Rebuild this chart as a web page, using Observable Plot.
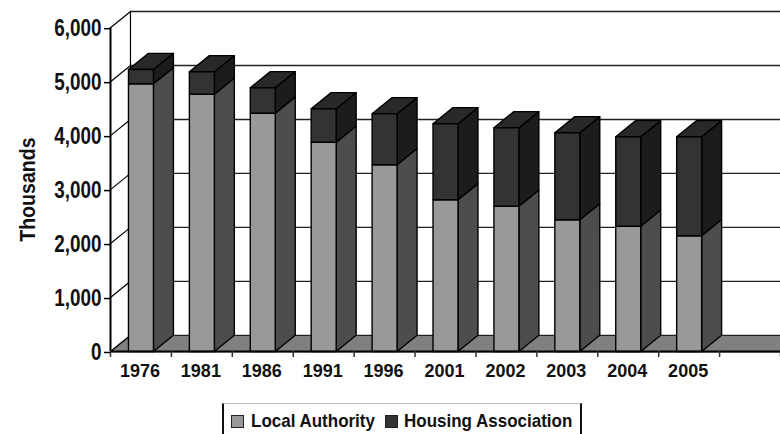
<!DOCTYPE html>
<html>
<head>
<meta charset="utf-8">
<script src="https://cdn.jsdelivr.net/npm/d3@7"></script>
<script src="https://cdn.jsdelivr.net/npm/@observablehq/plot@0.6"></script>
<style>
html,body{margin:0;padding:0;background:#fff;overflow:hidden;font-family:"Liberation Sans",Arial,sans-serif}
#legend{position:absolute;left:222px;top:403px;width:356px;height:31px;border-left:2px solid #111;border-right:2px solid #111;border-top:1.5px solid #bbb;font-weight:bold;font-size:19px;color:#111}
#legend i{position:absolute;top:11px;width:11px;height:11px;border:1px solid #222}
#legend span{position:absolute;top:6px;white-space:nowrap;transform:scaleX(0.894);transform-origin:left center}
</style>
</head>
<body>
<div id="chart"></div>
<div id="legend"></div>
<script>
const years = ["1976","1981","1986","1991","1996","2001","2002","2003","2004","2005"];
const localAuthority = [4960,4767,4415,3878,3460,2811,2692,2440,2322,2145];
const housingAssociation = [265,416,471,619,944,1408,1453,1612,1656,1833];
const seriesNames = ["Local Authority","Housing Association"];
const gridValues = [0,1000,2000,3000,4000,5000,6000];
const slotCount = 11;

const depthX = 0.328, depthY = 300;          // oblique projection of the depth, in data units
const barLeft = 0.295, barRight = 0.705;
const colors = {
  laFront:"#999999", laSide:"#4d4d4d",
  haFront:"#333333", haSide:"#1c1c1c", top:"#292929", floor:"#808080"
};

// polygons are listed back to front
const polys = [];
let pid = 0;
function poly(pts, fill){
  pid++;
  pts.forEach(([x,y]) => polys.push({x,y,id:pid,fill}));
}
years.forEach((yr,i) => {
  const l = i+barLeft, r = i+barRight;
  const a = localAuthority[i], t = a+housingAssociation[i];
  poly([[r,0],[r+depthX,depthY],[r+depthX,a+depthY],[r,a]], colors.laSide);
  poly([[r,a],[r+depthX,a+depthY],[r+depthX,t+depthY],[r,t]], colors.haSide);
  poly([[l,t],[l+depthX,t+depthY],[r+depthX,t+depthY],[r,t]], colors.top);
  poly([[l,0],[r,0],[r,a],[l,a]], colors.laFront);
  poly([[l,a],[r,a],[r,t],[l,t]], colors.haFront);
});

const backGrid = gridValues.filter(v => v>0);
const sideGrid = gridValues.flatMap(v => [{x:0,y:v,v},{x:depthX,y:v+depthY,v}]);

const chart = Plot.plot({
  width:780, height:400,
  marginLeft:110, marginRight:0, marginTop:11, marginBottom:49,
  x:{domain:[0,slotCount], axis:null},
  y:{domain:[0,6300], axis:null},
  style:{fontFamily:'"Liberation Sans",Arial,sans-serif', background:"#fff", color:"#000", overflow:"visible"},
  marks:[
    // floor
    Plot.line([[0,0],[depthX,depthY],[slotCount,depthY],[slotCount,0]],{x:d=>d[0],y:d=>d[1],fill:colors.floor,stroke:"#000",strokeWidth:1,curve:"linear-closed"}),
    // back wall grid
    Plot.ruleY(backGrid,{y:d=>d+depthY,x1:depthX,x2:slotCount,stroke:"#222",strokeWidth:1.4}),
    Plot.line(sideGrid,{x:"x",y:"y",z:"v",stroke:"#000",strokeWidth:1.2}),
    Plot.ruleX([depthX],{y1:depthY,y2:6000+depthY,stroke:"#000",strokeWidth:1.2}),
    // bars
    Plot.line(polys,{x:"x",y:"y",z:"id",fill:"fill",stroke:"#000",strokeWidth:1.4,curve:"linear-closed"}),
    // axes
    Plot.ruleX([0],{y1:0,y2:6000,stroke:"#000",strokeWidth:2}),
    Plot.ruleY([0],{x1:0,x2:slotCount,stroke:"#000",strokeWidth:2}),
    Plot.axisY({ticks:gridValues,tickFormat:d3.format(","),tickSize:6,tickPadding:3,fontSize:23,fontWeight:"bold",fill:"#111",stroke:"#000",strokeWidth:1.5,label:null,dy:1}),
    Plot.axisX({ticks:d3.range(slotCount+1),tickFormat:()=>"",tickSize:6,stroke:"#333",strokeWidth:1.5,label:null}),
    Plot.text(years,{x:(d,i)=>i+0.5,y:0,text:d=>d,dy:20,dx:-1,fontSize:18,fontWeight:"bold",fill:"#111"}),
    Plot.text(["Thousands"],{x:0,y:[3000],text:d=>d,dx:-82.5,rotate:-90,fontSize:22,fontWeight:"bold",fill:"#111"})
  ]
});
document.getElementById("chart").appendChild(chart);

// the reference type is condensed: narrow the real text without changing its height
chart.querySelectorAll("text").forEach(t => {
  const s = t.textContent;
  const ratio = s === "Thousands" ? 0.89 : (/^\d(,\d+)?$/.test(s) ? 0.82 : 1);
  if (ratio < 1) {
    t.setAttribute("textLength", t.getComputedTextLength()*ratio);
    t.setAttribute("lengthAdjust","spacingAndGlyphs");
  }
});

const legend = document.getElementById("legend");
const swatches = [colors.laFront, colors.haFront];
const swatchLeft = ["7px","161px"], textLeft = ["27px","180px"];
seriesNames.forEach((n,i) => {
  const b = document.createElement("i");
  b.style.left = swatchLeft[i]; b.style.background = swatches[i];
  const s = document.createElement("span");
  s.style.left = textLeft[i]; s.textContent = n;
  legend.append(b,s);
});
</script>
</body>
</html>
